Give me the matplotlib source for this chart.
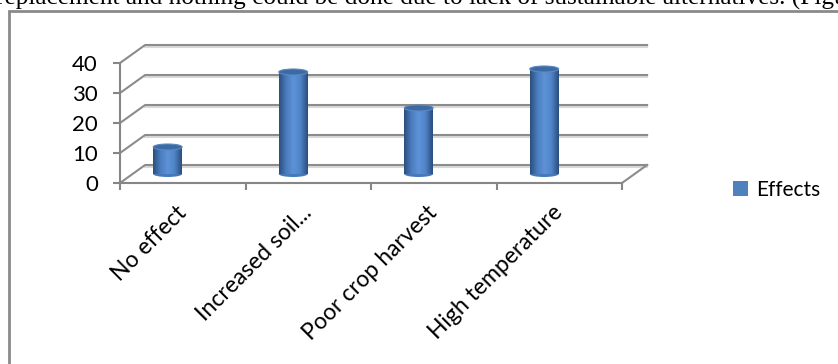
import matplotlib as mpl
mpl.use('Agg')

import matplotlib.pyplot as plt
import matplotlib.patches as mpatches
from matplotlib.colors import LinearSegmentedColormap
import numpy as np

# Data
categories = ["No effect", "Increased soil...", "Poor crop harvest", "High temperature"]
values = [9, 34, 22, 35]
yticks = [0, 10, 20, 30, 40]
series_name = "Effects"

caption = "replacement and nothing could be done due to lack of sustainable alternatives. (Figure"

# Look
font = "Lato"
fsize = 15
wall_color = "#8c8c8c"
shadow_color = "#d9d9d9"
bar_color = "#4f81bd"
cyl = LinearSegmentedColormap.from_list(
  "cyl", ["#2c4f7c", "#4a7dbf", "#5d93d8", "#4f84c8", "#2b4d7a"])

# fake 3d depth, in data units
depth_x, depth_y = 0.2, 6
bar_dx, bar_dy = -0.12, 3
bar_w = 0.23
cap_h = 2.0

W, H = 838, 364
fig = plt.figure(figsize=(W/100, H/100), dpi=100)
ax = fig.add_axes([120/W, 1-183/H, 502/W, 120/H])

# page caption (cut at the top) and the chart frame
fig.text(-4/W, 1-5/H, caption, family="Liberation Serif", fontsize=18.2, va="baseline")
fig.patches.append(mpatches.Rectangle(
  (9/W, -0.1), 1.2, 1.1 - 11/H, transform=fig.transFigure,
  fill=False, edgecolor="#8a8a8a", linewidth=2))

n = len(categories)
xs = np.arange(n) + 0.5

# side wall and back wall gridlines
for v in yticks:
  ax.plot([depth_x, n + depth_x], [v + depth_y - 0.6]*2,
    color=shadow_color, linewidth=1.5, clip_on=False, zorder=1)
  ax.plot([0, depth_x, n + depth_x], [v, v + depth_y, v + depth_y],
    color=wall_color, linewidth=1.5, clip_on=False, zorder=1)
ax.plot([n, n + depth_x], [0, depth_y], color=wall_color, linewidth=1.5,
  clip_on=False, zorder=1)

# cylinders
bars = ax.bar(xs + bar_dx, values, width=bar_w, bottom=bar_dy,
  color=bar_color, zorder=3)
grad = np.linspace(0, 1, 64)[np.newaxis, :]
for b, v in zip(bars, values):
  x0 = b.get_x()
  ax.add_patch(mpatches.Ellipse((x0 + bar_w/2, bar_dy), bar_w, cap_h,
    facecolor="#4679ba", edgecolor="none", zorder=2.5))
  im = ax.imshow(grad, cmap=cyl, extent=[x0, x0 + bar_w, bar_dy, bar_dy + v],
    aspect="auto", interpolation="bicubic", zorder=3.5)
  im.set_clip_path(b)
  ax.add_patch(mpatches.Ellipse((x0 + bar_w/2, bar_dy + v), bar_w, cap_h,
    facecolor="#3c6aa3", edgecolor="#5b88c2", linewidth=0.8, zorder=4))

ax.set_xlim(0, n)
ax.set_ylim(0, 40)

for s in ["top", "right"]:
  ax.spines[s].set_visible(False)
for s in ["left", "bottom"]:
  ax.spines[s].set_color("#868686")
  ax.spines[s].set_linewidth(1.5)

ax.set_yticks(yticks)
ax.set_yticklabels([str(v) for v in yticks], family=font, fontsize=16)
ax.tick_params(axis="y", length=5, width=1.5, color="#868686", pad=11)

ax.set_xticks(range(n + 1), minor=True)
ax.set_xticks(xs)
ax.set_xticklabels(categories, family=font, fontsize=16.5, rotation=45,
  ha="right", va="center", rotation_mode="anchor")
ax.tick_params(axis="x", which="major", length=0, pad=19)
ax.tick_params(axis="x", which="minor", length=5, width=1.5, color="#868686")

fig.legend(handles=[mpatches.Patch(facecolor=bar_color)], labels=[series_name],
  loc="center left", bbox_to_anchor=(733/W, 1-189.5/H), frameon=False,
  prop={"family": font, "size": fsize}, handlelength=0.7, handleheight=0.7,
  handletextpad=0.4, borderpad=0, borderaxespad=0)

fig.savefig("out.png", dpi=100)
plt.close()
